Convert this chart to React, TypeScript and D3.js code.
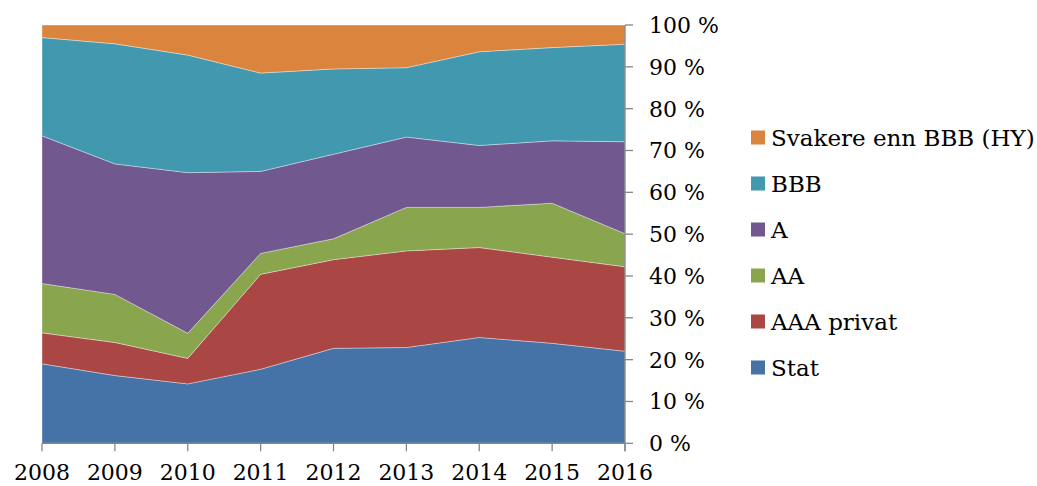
import React from 'react';
import * as d3 from 'd3';

// andeler i prosent, lest av figuren
const years = ['2008', '2009', '2010', '2011', '2012', '2013', '2014', '2015', '2016'];
const stat = [19.0, 16.2, 14.2, 17.7, 22.7, 22.9, 25.3, 23.9, 22.0];
const aaaPrivat = [7.4, 7.9, 6.1, 22.7, 21.2, 23.1, 21.5, 20.6, 20.2];
const aa = [11.8, 11.5, 6.0, 5.0, 5.0, 10.4, 9.6, 12.9, 7.9];
const a = [35.3, 31.2, 38.4, 19.6, 20.2, 16.8, 14.8, 14.9, 22.0];
const bbb = [23.5, 28.7, 28.1, 23.5, 20.4, 16.6, 22.4, 22.3, 23.3];
const hy = [3.0, 4.5, 7.2, 11.5, 10.5, 10.2, 6.4, 5.4, 4.6];
const yTicks = [0, 10, 20, 30, 40, 50, 60, 70, 80, 90, 100];

const seriesNames = ['Stat', 'AAA privat', 'AA', 'A', 'BBB', 'Svakere enn BBB (HY)'];
const seriesValues = [stat, aaaPrivat, aa, a, bbb, hy];
const colors = ['#4572A7', '#AA4643', '#89A54E', '#71588F', '#4198AF', '#DB843D'];

const W = 1037;
const H = 486;
const plot = { left: 42, right: 625, top: 25, bottom: 443.3 };
const font = '"DejaVu Serif", serif';

export default function App() {
  const rows = years.map((yr, i) => {
    const row: any = { year: yr };
    seriesNames.forEach((n, k) => (row[n] = seriesValues[k][i]));
    return row;
  });
  const stacked = d3.stack<any>().keys(seriesNames).offset(d3.stackOffsetExpand)(rows);

  const x = d3.scalePoint().domain(years).range([plot.left, plot.right]);
  const y = d3.scaleLinear().domain([0, 1]).range([plot.bottom, plot.top]);

  const area = d3
    .area<any>()
    .x((d) => x(d.data.year) as number)
    .y0((d) => y(d[0]))
    .y1((d) => y(d[1]));

  const axisColor = '#868686';

  return (
    <svg width={W} height={H} style={{ position: 'absolute', left: 0, top: 0 }}>
      <g>
        {stacked.map((s, k) => (
          <path
            key={s.key}
            d={area(s) || ''}
            fill={colors[k]}
            stroke="#ffffff"
            strokeOpacity={0.45}
            strokeWidth={0.8}
          />
        ))}
      </g>

      {/* x-akse */}
      <line x1={plot.left} x2={plot.right} y1={plot.bottom} y2={plot.bottom} stroke={axisColor} strokeWidth={1.3} />
      {years.map((yr) => (
        <g key={yr}>
          <line
            x1={x(yr)}
            x2={x(yr)}
            y1={plot.bottom}
            y2={plot.bottom + 8}
            stroke={axisColor}
            strokeWidth={1.3}
          />
          <text x={x(yr)} y={480} textAnchor="middle" fontFamily={font} fontSize={22} fill="#000">
            {yr}
          </text>
        </g>
      ))}

      {/* y-akse til høyre */}
      <line x1={plot.right} x2={plot.right} y1={plot.top} y2={plot.bottom + 8} stroke={axisColor} strokeWidth={1.3} />
      {yTicks.map((t) => (
        <g key={t}>
          <line
            x1={plot.right}
            x2={plot.right + 8}
            y1={y(t / 100)}
            y2={y(t / 100)}
            stroke={axisColor}
            strokeWidth={1.3}
          />
          <text x={649} y={y(t / 100) + 8} fontFamily={font} fontSize={22} fill="#000">
            {t} %
          </text>
        </g>
      ))}

      {/* forklaring */}
      {seriesNames
        .map((n, k) => ({ n, k }))
        .reverse()
        .map(({ n, k }, i) => {
          const cy = 137.5 + i * 46;
          return (
            <g key={n}>
              <rect x={751} y={cy - 7} width={14} height={14} fill={colors[k]} />
              <text x={771} y={cy + 8} fontFamily={font} fontSize={23} fill="#000">
                {n}
              </text>
            </g>
          );
        })}
    </svg>
  );
}
